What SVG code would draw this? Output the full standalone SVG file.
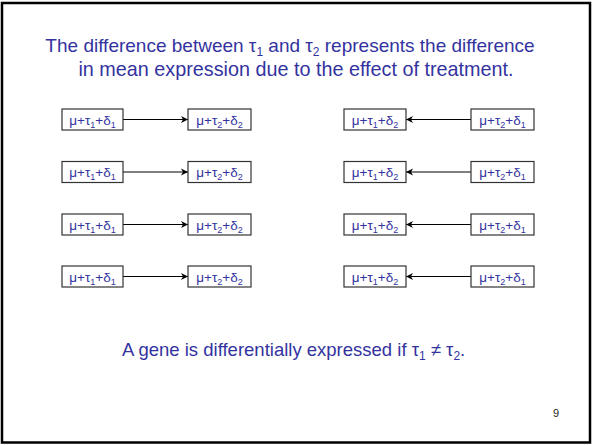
<svg xmlns="http://www.w3.org/2000/svg" width="592" height="445" viewBox="0 0 592 445">
<style>
.t{font-family:"Liberation Sans",Arial,sans-serif;fill:#3333a0}
.title{font-size:19.8px;text-anchor:middle}
.ts{font-size:12px}
.box{fill:#fff;stroke:#333;stroke-width:1.2}
.bt{font-size:13.5px;text-anchor:middle}
.sub{font-size:9px}
.ln{stroke:#000;stroke-width:1.2;fill:none;marker-end:url(#ah)}
</style>
<defs>
<marker id="ah" markerWidth="8" markerHeight="8" refX="7" refY="4" orient="auto" markerUnits="userSpaceOnUse">
<path d="M0,0.5 L7,4 L0,7.5 L2,4 Z" fill="#000"/>
</marker>
</defs>
<rect x="0" y="0" width="592" height="445" fill="#fff"/>
<rect x="2" y="3" width="588" height="439.5" fill="none" stroke="#000" stroke-width="2.5"/>
<g id="title">
<text class="t title" x="290" y="51.5" style="font-size:19px">The difference between τ<tspan class="ts" dy="4">1</tspan><tspan dy="-4"> and τ</tspan><tspan class="ts" dy="4">2</tspan><tspan dy="-4"> represents the difference</tspan></text>
<text class="t title" x="296" y="76">in mean expression due to the effect of treatment.</text>
</g>
<g id="connectors">
<line class="ln" x1="123" y1="119.5" x2="188" y2="119.5"/>
<line class="ln" x1="123" y1="172" x2="188" y2="172"/>
<line class="ln" x1="123" y1="224.5" x2="188" y2="224.5"/>
<line class="ln" x1="123" y1="276.5" x2="188" y2="276.5"/>
<line class="ln" x1="471" y1="119.5" x2="406" y2="119.5"/>
<line class="ln" x1="471" y1="172" x2="406" y2="172"/>
<line class="ln" x1="471" y1="224.5" x2="406" y2="224.5"/>
<line class="ln" x1="471" y1="276.5" x2="406" y2="276.5"/>
</g>
<g id="L1"><rect class="box" x="62" y="109" width="61" height="21"/><text class="t bt" x="92.5" y="124.5">μ+τ<tspan class="sub" dy="3">1</tspan><tspan dy="-3">+δ</tspan><tspan class="sub" dy="3">1</tspan></text></g>
<g id="R1"><rect class="box" x="188" y="109" width="63" height="21"/><text class="t bt" x="219.5" y="124.5">μ+τ<tspan class="sub" dy="3">2</tspan><tspan dy="-3">+δ</tspan><tspan class="sub" dy="3">2</tspan></text></g>
<g id="L2"><rect class="box" x="62" y="161.5" width="61" height="21"/><text class="t bt" x="92.5" y="177">μ+τ<tspan class="sub" dy="3">1</tspan><tspan dy="-3">+δ</tspan><tspan class="sub" dy="3">1</tspan></text></g>
<g id="R2"><rect class="box" x="188" y="161.5" width="63" height="21"/><text class="t bt" x="219.5" y="177">μ+τ<tspan class="sub" dy="3">2</tspan><tspan dy="-3">+δ</tspan><tspan class="sub" dy="3">2</tspan></text></g>
<g id="L3"><rect class="box" x="62" y="214" width="61" height="21"/><text class="t bt" x="92.5" y="229.5">μ+τ<tspan class="sub" dy="3">1</tspan><tspan dy="-3">+δ</tspan><tspan class="sub" dy="3">1</tspan></text></g>
<g id="R3"><rect class="box" x="188" y="214" width="63" height="21"/><text class="t bt" x="219.5" y="229.5">μ+τ<tspan class="sub" dy="3">2</tspan><tspan dy="-3">+δ</tspan><tspan class="sub" dy="3">2</tspan></text></g>
<g id="L4"><rect class="box" x="62" y="266" width="61" height="21"/><text class="t bt" x="92.5" y="281.5">μ+τ<tspan class="sub" dy="3">1</tspan><tspan dy="-3">+δ</tspan><tspan class="sub" dy="3">1</tspan></text></g>
<g id="R4"><rect class="box" x="188" y="266" width="63" height="21"/><text class="t bt" x="219.5" y="281.5">μ+τ<tspan class="sub" dy="3">2</tspan><tspan dy="-3">+δ</tspan><tspan class="sub" dy="3">2</tspan></text></g>
<g id="L5"><rect class="box" x="344" y="109" width="62" height="21"/><text class="t bt" x="375" y="124.5">μ+τ<tspan class="sub" dy="3">1</tspan><tspan dy="-3">+δ</tspan><tspan class="sub" dy="3">2</tspan></text></g>
<g id="R5"><rect class="box" x="471" y="109" width="63" height="21"/><text class="t bt" x="502.5" y="124.5">μ+τ<tspan class="sub" dy="3">2</tspan><tspan dy="-3">+δ</tspan><tspan class="sub" dy="3">1</tspan></text></g>
<g id="L6"><rect class="box" x="344" y="161.5" width="62" height="21"/><text class="t bt" x="375" y="177">μ+τ<tspan class="sub" dy="3">1</tspan><tspan dy="-3">+δ</tspan><tspan class="sub" dy="3">2</tspan></text></g>
<g id="R6"><rect class="box" x="471" y="161.5" width="63" height="21"/><text class="t bt" x="502.5" y="177">μ+τ<tspan class="sub" dy="3">2</tspan><tspan dy="-3">+δ</tspan><tspan class="sub" dy="3">1</tspan></text></g>
<g id="L7"><rect class="box" x="344" y="214" width="62" height="21"/><text class="t bt" x="375" y="229.5">μ+τ<tspan class="sub" dy="3">1</tspan><tspan dy="-3">+δ</tspan><tspan class="sub" dy="3">2</tspan></text></g>
<g id="R7"><rect class="box" x="471" y="214" width="63" height="21"/><text class="t bt" x="502.5" y="229.5">μ+τ<tspan class="sub" dy="3">2</tspan><tspan dy="-3">+δ</tspan><tspan class="sub" dy="3">1</tspan></text></g>
<g id="L8"><rect class="box" x="344" y="266" width="62" height="21"/><text class="t bt" x="375" y="281.5">μ+τ<tspan class="sub" dy="3">1</tspan><tspan dy="-3">+δ</tspan><tspan class="sub" dy="3">2</tspan></text></g>
<g id="R8"><rect class="box" x="471" y="266" width="63" height="21"/><text class="t bt" x="502.5" y="281.5">μ+τ<tspan class="sub" dy="3">2</tspan><tspan dy="-3">+δ</tspan><tspan class="sub" dy="3">1</tspan></text></g>
<g id="conclusion">
<text class="t" x="122" y="356" style="font-size:18.5px">A gene is differentially expressed if  τ<tspan style="font-size:12px" dy="4">1</tspan><tspan dy="-4"> ≠ τ</tspan><tspan style="font-size:12px" dy="4">2</tspan><tspan dy="-4">.</tspan></text>
</g>
<text x="553" y="417" style="font-family:'Liberation Sans',Arial,sans-serif;font-size:11px;fill:#222">9</text>
</svg>
